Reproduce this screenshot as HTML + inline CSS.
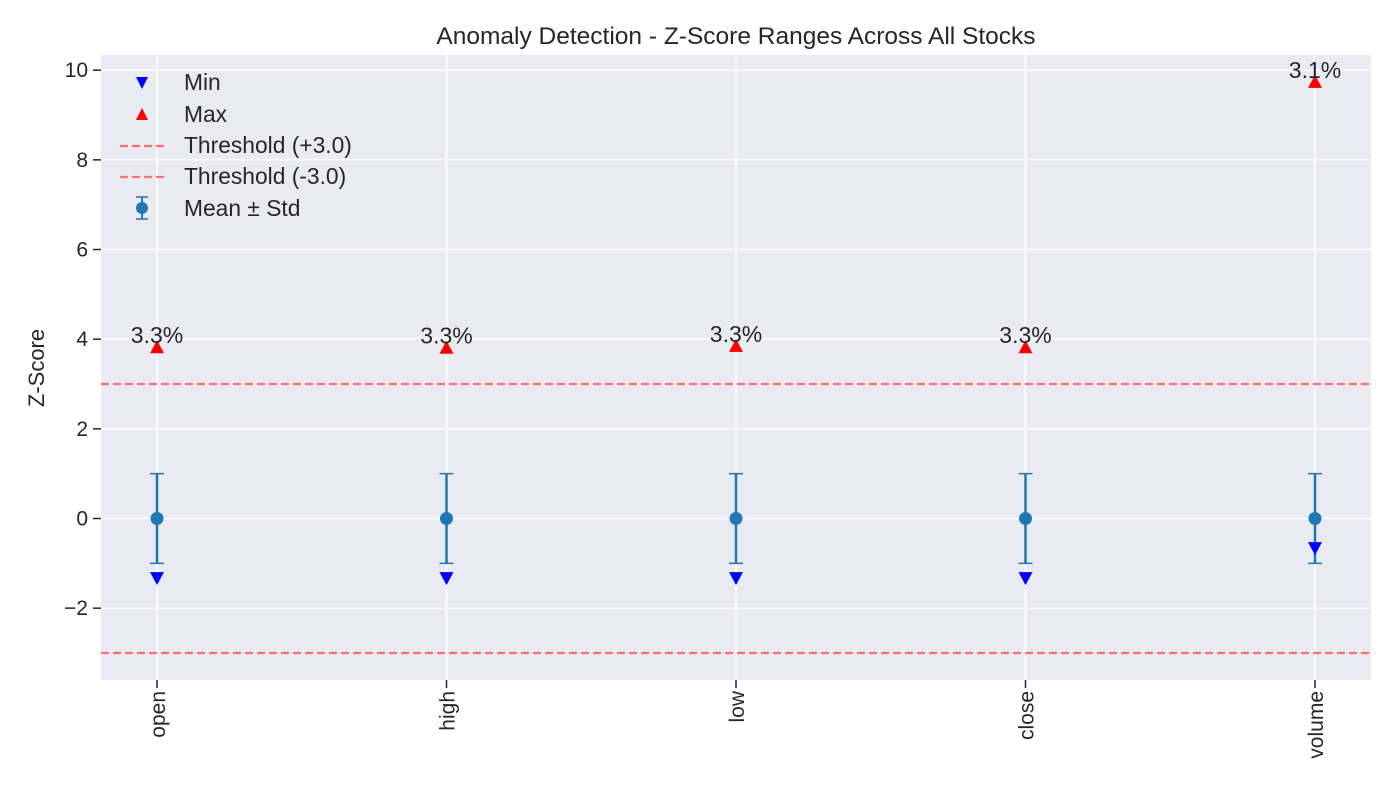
<!DOCTYPE html>
<html><head><meta charset="utf-8"><style>
body{margin:0;background:#fff;}
svg text{font-family:"Liberation Sans","DejaVu Sans",sans-serif;fill:#262626;}
</style></head><body>
<svg id="chart" width="1400" height="800" xmlns="http://www.w3.org/2000/svg">
<rect x="101" y="55" width="1270" height="625" fill="#eaeaf2"/>
<g id="grid"></g>
<g id="marks"></g>
<text x="736" y="44" font-size="24.5" text-anchor="middle">Anomaly Detection - Z-Score Ranges Across All Stocks</text>
<text transform="translate(44,368) rotate(-90)" font-size="22" text-anchor="middle">Z-Score</text>
<g>
 <g><polygon points="136,77 148,77 142,89" fill="#0000ff"/><text x="184" y="90" font-size="22.8">Min</text></g>
 <g><polygon points="136,120 148,120 142,108" fill="#ff0000"/><text x="184" y="122" font-size="22.8">Max</text></g>
 <g><line x1="120" y1="146" x2="165" y2="146" stroke="#ff6f6f" stroke-width="2.2" stroke-dasharray="8,4"/><text x="184" y="153" font-size="22.8">Threshold (+3.0)</text></g>
 <g><line x1="120" y1="177" x2="165" y2="177" stroke="#ff6f6f" stroke-width="2.2" stroke-dasharray="8,4"/><text x="184" y="184" font-size="22.8">Threshold (-3.0)</text></g>
 <g><line x1="142" y1="197" x2="142" y2="219" stroke="#1f77b4" stroke-width="2"/><line x1="136" y1="197" x2="148" y2="197" stroke="#1f77b4" stroke-width="1.5"/><line x1="136" y1="219" x2="148" y2="219" stroke="#1f77b4" stroke-width="1.5"/><circle cx="142" cy="208" r="6" fill="#1f77b4"/><text x="184" y="216" font-size="22.8">Mean ± Std</text></g>
</g>
</svg>
<script>
const categories=["open","high","low","close","volume"];
const means=[0,0,0,0,0];
const stds=[1,1,1,1,1];
const mins=[-1.33,-1.33,-1.33,-1.33,-0.66];
const maxs=[3.82,3.81,3.85,3.82,9.74];
const pctLabels=["3.3%","3.3%","3.3%","3.3%","3.1%"];
const yTicks=[-2,0,2,4,6,8,10];
const yTickLabels=["\u22122","0","2","4","6","8","10"];
const thresholds=[3,-3];
const NS="http://www.w3.org/2000/svg";
const L=101,R=1371,T=55,B=680;
const y=v=>518.5-v*44.83;
const x=i=>157+i*289.5;
function mk(t,a,p){const e=document.createElementNS(NS,t);for(const k in a)e.setAttribute(k,a[k]);p.appendChild(e);return e;}
const g=document.getElementById('grid'),m=document.getElementById('marks'),svg=document.getElementById('chart');
yTicks.forEach((v,i)=>{
 const l=mk('line',{x1:L,x2:R,y1:y(v),y2:y(v),stroke:'#fff','stroke-width':1.5},g);
 
 
 const tk=mk('line',{x1:L-8,x2:L,y1:y(v),y2:y(v),stroke:'#262626','stroke-width':1.5},svg);
 
 
 const t=mk('text',{x:L-13,y:y(v)+7,'font-size':21,'text-anchor':'end'},svg);
 t.textContent=yTickLabels[i];
 
 
});
categories.forEach((c,i)=>{
 const l=mk('line',{x1:x(i),x2:x(i),y1:T,y2:B,stroke:'#fff','stroke-width':1.5},g);
 
 
 const tk=mk('line',{x1:x(i),x2:x(i),y1:B,y2:B+8,stroke:'#262626','stroke-width':1.5},svg);
 
 
 const t=mk('text',{transform:`translate(${x(i)+8},${B+11}) rotate(-90)`,'font-size':21,'text-anchor':'end'},svg);
 t.textContent=c;
 
 
});
thresholds.forEach(v=>{
 const l=mk('line',{x1:L,x2:R,y1:y(v),y2:y(v),stroke:'#ff6f6f','stroke-width':2.2,'stroke-dasharray':'8,4'},m);
 
 
});
categories.forEach((c,i)=>{
 const cx=x(i),top=y(means[i]+stds[i]),bot=y(means[i]-stds[i]);
 const eb=mk('g',{},m);
 
 
 mk('line',{x1:cx,x2:cx,y1:top,y2:bot,stroke:'#1f77b4','stroke-width':2.5},eb);
 mk('line',{x1:cx-7,x2:cx+7,y1:top,y2:top,stroke:'#1f77b4','stroke-width':1.5},eb);
 mk('line',{x1:cx-7,x2:cx+7,y1:bot,y2:bot,stroke:'#1f77b4','stroke-width':1.5},eb);
 mk('circle',{cx:cx,cy:y(means[i]),r:6.5,fill:'#1f77b4'},eb);
 const ym=y(mins[i]);
 const mn=mk('polygon',{points:`${cx-7},${ym-6} ${cx+7},${ym-6} ${cx},${ym+7}`,fill:'#0000ff'},m);
 
 
 const yx=y(maxs[i]);
 const mx=mk('polygon',{points:`${cx-7},${yx+6} ${cx+7},${yx+6} ${cx},${yx-7}`,fill:'#ff0000'},m);
 
 
 const t=mk('text',{x:cx,y:yx-4,'font-size':23,'text-anchor':'middle'},m);
 t.textContent=pctLabels[i];
 
 
});
</script>
</body></html>
